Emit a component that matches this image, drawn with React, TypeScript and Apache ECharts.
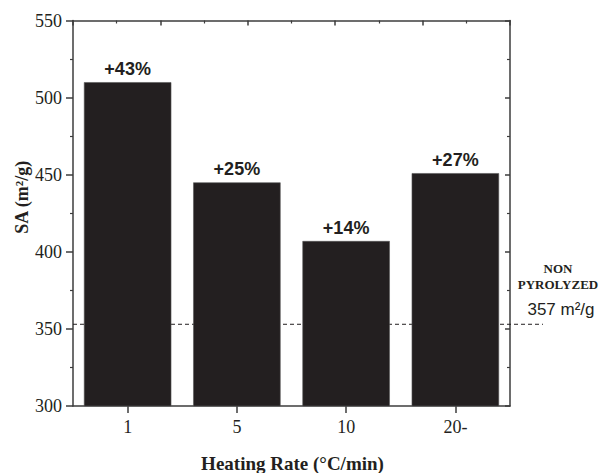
import React, { useEffect, useRef } from "react";
import * as echarts from "echarts";

const categories = ["1", "5", "10", "20-"];
const surfaceArea = [510, 445, 407, 451];
const increaseLabels = ["+43%", "+25%", "+14%", "+27%"];
const yMin = 300;
const yMax = 550;
const yInterval = 50;
const referenceLineValue = 353;
const referenceTexts = ["NON", "PYROLYZED", "357 m²/g"];
const yTitle = "SA (m²/g)";
const xTitle = "Heating Rate (°C/min)";

const INK = "#231f20";
const AXIS = "#3c3c3c";
const SERIF = "'Liberation Serif', 'Times New Roman', serif";
const SANS = "'Liberation Sans', Arial, sans-serif";

export default function App() {
  const ref = useRef<HTMLDivElement>(null);
  useEffect(() => {
    const chart = echarts.init(ref.current!, null, { renderer: "svg" });
    const axisLine = { show: true, lineStyle: { color: AXIS, width: 1.5 } };
    chart.setOption({
      animation: false,
      grid: { left: 73, right: 90, top: 20.5, bottom: 67, containLabel: false },
      xAxis: [
        {
          type: "category",
          data: categories,
          position: "bottom",
          axisLine: { ...axisLine, onZero: false },
          axisTick: { show: true, alignWithLabel: true, length: 7, inside: false, lineStyle: { color: AXIS, width: 1.5 } },
          axisLabel: { color: INK, fontFamily: SERIF, fontSize: 18, margin: 12 },
          splitLine: { show: false },
        },
        {
          type: "value",
          position: "top",
          min: 0,
          max: 5,
          interval: 1,
          axisLine: { ...axisLine, onZero: false },
          axisTick: { show: true, inside: true, length: 5, lineStyle: { color: AXIS, width: 1.5 } },
          minorTick: { show: true, splitNumber: 2, length: 3, lineStyle: { color: AXIS, width: 1.2 } },
          axisLabel: { show: false },
          splitLine: { show: false },
        },
      ],
      yAxis: [
        {
          type: "value",
          min: yMin,
          max: yMax,
          interval: yInterval,
          position: "left",
          axisLine: { ...axisLine, onZero: false },
          axisTick: { show: true, inside: false, length: 7, lineStyle: { color: AXIS, width: 1.5 } },
          minorTick: { show: true, splitNumber: 2, length: 3, lineStyle: { color: AXIS, width: 1.2 } },
          axisLabel: { color: INK, fontFamily: SERIF, fontSize: 18, margin: 11 },
          splitLine: { show: false },
        },
        {
          type: "value",
          min: yMin,
          max: yMax,
          interval: yInterval,
          position: "right",
          axisLine: { ...axisLine, onZero: false },
          axisTick: { show: true, inside: true, length: 5, lineStyle: { color: AXIS, width: 1.5 } },
          minorTick: { show: true, splitNumber: 2, length: 3, lineStyle: { color: AXIS, width: 1.2 } },
          axisLabel: { show: false },
          splitLine: { show: false },
        },
      ],
      series: [
        {
          type: "bar",
          xAxisIndex: 0,
          yAxisIndex: 0,
          data: surfaceArea,
          barCategoryGap: "20%",
          z: 5,
          itemStyle: { color: INK, borderColor: "#555", borderWidth: 0.6 },
          label: {
            show: true,
            position: "top",
            distance: 4,
            color: INK,
            fontFamily: SANS,
            fontWeight: "bold",
            fontSize: 18,
            formatter: (p: any) => increaseLabels[p.dataIndex],
          },
        },
      ],
    });

    const yLine = chart.convertToPixel({ yAxisIndex: 0 }, referenceLineValue) as number;
    const xLeft = chart.convertToPixel({ xAxisIndex: 1 }, 0) as number;
    const xRight = chart.convertToPixel({ xAxisIndex: 1 }, 5) as number;
    const yTop = chart.convertToPixel({ yAxisIndex: 0 }, yMax) as number;
    const yBottom = chart.convertToPixel({ yAxisIndex: 0 }, yMin) as number;

    chart.setOption({
      graphic: [
        {
          type: "line",
          z: 1,
          shape: { x1: xLeft, y1: yLine, x2: xRight + 33, y2: yLine },
          style: { stroke: INK, lineWidth: 1, lineDash: [4, 3] },
        },
        {
          type: "text",
          x: 22,
          y: (yTop + yBottom) / 2 - 16,
          rotation: Math.PI / 2,
          style: {
            text: yTitle,
            fill: INK,
            font: `bold 18px ${SERIF}`,
            align: "center",
            verticalAlign: "middle",
          },
        },
        {
          type: "text",
          x: (xLeft + xRight) / 2 + 1,
          y: 463,
          style: {
            text: xTitle,
            fill: INK,
            font: `bold 19px ${SERIF}`,
            align: "center",
            verticalAlign: "middle",
          },
        },
        {
          type: "text",
          x: 558,
          y: 268,
          style: {
            text: referenceTexts[0],
            fill: INK,
            font: `bold 13px ${SERIF}`,
            align: "center",
            verticalAlign: "middle",
          },
        },
        {
          type: "text",
          x: 558,
          y: 284.5,
          style: {
            text: referenceTexts[1],
            fill: INK,
            font: `bold 13px ${SERIF}`,
            align: "center",
            verticalAlign: "middle",
          },
        },
        {
          type: "text",
          x: 561,
          y: 309,
          style: {
            text: referenceTexts[2],
            fill: INK,
            font: `17px ${SANS}`,
            align: "center",
            verticalAlign: "middle",
          },
        },
      ],
    });
    return () => chart.dispose();
  }, []);
  return (
    <div
      ref={ref}
      style={{ position: "absolute", left: 0, top: 0, width: 600, height: 473 }}
    />
  );
}
